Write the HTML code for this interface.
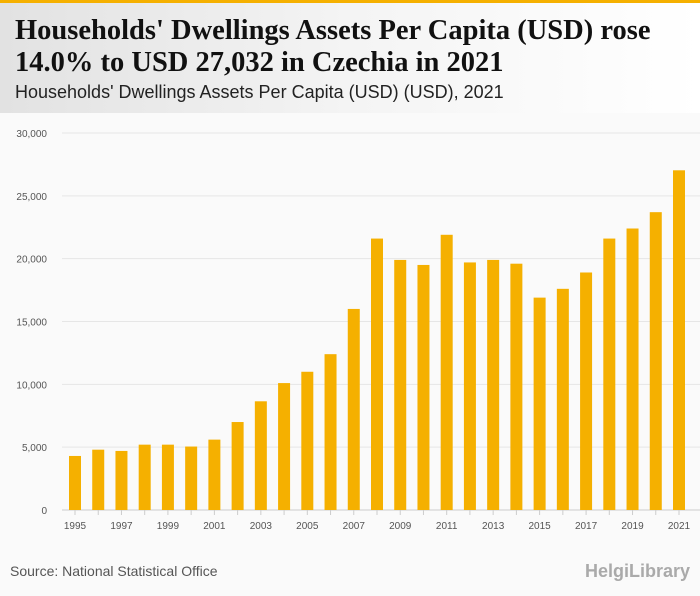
<!DOCTYPE html>
<html><head><meta charset="utf-8"><style>
body{margin:0;width:700px;height:596px;overflow:hidden;background:#fafafa;font-family:"Liberation Sans",sans-serif;position:relative}
#topbar{position:absolute;left:0;top:0;width:700px;height:3px;background:#f5b000}
#header{position:absolute;left:0;top:3px;width:700px;height:110px;background:linear-gradient(90deg,#e2e2e2,#f4f4f4 50%,#fff)}
#title{position:absolute;left:15px;top:12px;font-family:"Liberation Serif",serif;font-weight:bold;font-size:28.5px;line-height:32px;color:#111;margin:0;white-space:nowrap}
#subtitle{position:absolute;left:15px;top:79px;font-size:18px;color:#222;white-space:nowrap}
#source{position:absolute;left:10px;top:563px;font-size:14px;color:#555}
#logo{position:absolute;right:10px;top:561px;font-size:18px;color:#aaa;font-weight:bold}
svg{position:absolute;left:0;top:0}
</style></head><body>
<div id="topbar"></div>
<div id="header">
<h1 id="title">Households' Dwellings Assets Per Capita (USD) rose<br>14.0% to USD 27,032 in Czechia in 2021</h1>
<div id="subtitle">Households' Dwellings Assets Per Capita (USD) (USD), 2021</div>
</div>
<svg id="chart" width="700" height="596"></svg>
<div id="source">Source: National Statistical Office</div>
<div id="logo">HelgiLibrary</div>
<script>
const years=[1995,1996,1997,1998,1999,2000,2001,2002,2003,2004,2005,2006,2007,2008,2009,2010,2011,2012,2013,2014,2015,2016,2017,2018,2019,2020,2021];
const values=[4300,4800,4700,5200,5200,5050,5600,7000,8650,10100,11000,12400,16000,21600,19900,19500,21900,19700,19900,19600,16900,17600,18900,21600,22400,23700,27032];
const yTicks=[0,5000,10000,15000,20000,25000,30000];
const NS='http://www.w3.org/2000/svg';
const svg=document.getElementById('chart');
const y0=510,yTop=133,yMax=30000;
const y=v=>y0-(v/yMax)*(y0-yTop);
const x=i=>75+i*(679-75)/(years.length-1);
function mk(t,a){const e=document.createElementNS(NS,t);for(const k in a)e.setAttribute(k,a[k]);svg.appendChild(e);return e;}
yTicks.forEach(t=>{
 const l=mk('line',{x1:62,x2:700,y1:y(t),y2:y(t),stroke:t===0?'#ccc':'#e6e6e6','stroke-width':1});
 
 
 const tx=mk('text',{x:47,y:y(t)+4,'text-anchor':'end','font-size':10,fill:'#555','font-family':'Liberation Sans, sans-serif'});
 tx.textContent=t.toLocaleString('en-US');
 
 
});
years.forEach((yr,i)=>{
 const r=mk('rect',{x:x(i)-6,y:y(values[i]),width:12,height:y0-y(values[i]),fill:'#f5b000'});
 
 
 const tk=mk('line',{x1:x(i),x2:x(i),y1:y0,y2:y0+5,stroke:'#ccc'});
 
 
 if(i%2===0){
  const t=mk('text',{x:x(i),y:y0+19,'text-anchor':'middle','font-size':10,fill:'#555','font-family':'Liberation Sans, sans-serif'});
  t.textContent=yr;
  
  
 }
});
</script>
</body></html>
